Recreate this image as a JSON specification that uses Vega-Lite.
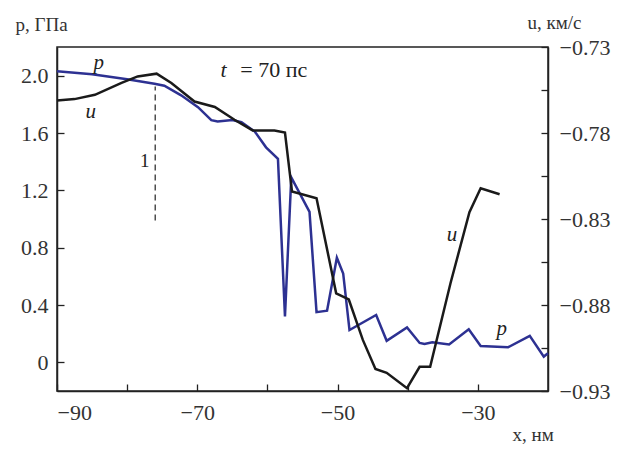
{
  "$schema": "https://vega.github.io/schema/vega-lite/v6.json",
  "width": 491,
  "height": 344,
  "autosize": {"type": "none"},
  "padding": {"left": 57, "top": 47, "right": 83, "bottom": 59},
  "background": "white",
  "config": {
    "font": "Liberation Serif",
    "view": {"stroke": "#222", "strokeWidth": 1.5},
    "axis": {
      "grid": false,
      "domainColor": "#222",
      "domainWidth": 1.5,
      "tickColor": "#222",
      "tickWidth": 1.3,
      "labelFont": "Liberation Serif",
      "labelFontSize": 22,
      "labelColor": "#333",
      "titleFont": "Liberation Serif",
      "titleFontSize": 19,
      "titleFontWeight": "normal",
      "titleColor": "#333",
      "titleAngle": 0,
      "titleAlign": "left",
      "titleBaseline": "alphabetic"
    }
  },
  "datasets": {
    "pdata": [
      {"x": -90, "p": 2.03},
      {"x": -85, "p": 2.01},
      {"x": -80, "p": 1.975},
      {"x": -76.1, "p": 1.944},
      {"x": -74.7, "p": 1.93},
      {"x": -72.3, "p": 1.863},
      {"x": -69.9, "p": 1.78},
      {"x": -68, "p": 1.69},
      {"x": -67.1, "p": 1.68},
      {"x": -65, "p": 1.69},
      {"x": -63.7, "p": 1.675},
      {"x": -61.8, "p": 1.61},
      {"x": -60.2, "p": 1.5},
      {"x": -58.5, "p": 1.42},
      {"x": -57.5, "p": 0.32},
      {"x": -56.6, "p": 1.29},
      {"x": -54, "p": 1.05},
      {"x": -53, "p": 0.35},
      {"x": -51.5, "p": 0.36},
      {"x": -50.1, "p": 0.73},
      {"x": -49.2, "p": 0.62},
      {"x": -48.3, "p": 0.225},
      {"x": -44.5, "p": 0.33},
      {"x": -43, "p": 0.15},
      {"x": -40.1, "p": 0.244},
      {"x": -38.3, "p": 0.135},
      {"x": -37.6, "p": 0.128},
      {"x": -36.5, "p": 0.14},
      {"x": -34.1, "p": 0.125},
      {"x": -31.3, "p": 0.23},
      {"x": -29.6, "p": 0.114},
      {"x": -25.7, "p": 0.105},
      {"x": -22.6, "p": 0.185},
      {"x": -20.6, "p": 0.04},
      {"x": -20, "p": 0.063}
    ],
    "udata": [
      {"x": -90, "u": -0.7611},
      {"x": -87.5, "u": -0.7603},
      {"x": -84.6, "u": -0.7578},
      {"x": -80.8, "u": -0.7509},
      {"x": -78.5, "u": -0.7471},
      {"x": -75.8, "u": -0.7455},
      {"x": -73.7, "u": -0.7509},
      {"x": -70.4, "u": -0.7617},
      {"x": -67.5, "u": -0.7649},
      {"x": -64.7, "u": -0.7723},
      {"x": -62.1, "u": -0.7785},
      {"x": -59.0, "u": -0.7785},
      {"x": -57.5, "u": -0.7797},
      {"x": -56.5, "u": -0.814},
      {"x": -53, "u": -0.8179},
      {"x": -50.2, "u": -0.8732},
      {"x": -48.4, "u": -0.8768},
      {"x": -46.4, "u": -0.9003},
      {"x": -44.6, "u": -0.9172},
      {"x": -43.0, "u": -0.9194},
      {"x": -40.1, "u": -0.9284},
      {"x": -38.3, "u": -0.9159},
      {"x": -36.8, "u": -0.9159},
      {"x": -33.9, "u": -0.8674},
      {"x": -31.2, "u": -0.826},
      {"x": -29.6, "u": -0.8121},
      {"x": -26.9, "u": -0.8156}
    ],
    "italicLabels": [
      {"x": -84.06, "p": 2.049, "text": "p"},
      {"x": -85.2, "p": 1.707, "text": "u"},
      {"x": -33.7, "p": 0.845, "text": "u"},
      {"x": -26.58, "p": 0.19, "text": "p"}
    ],
    "tLabel": [
      {"x": -66.68, "p": 1.99, "text": "t"}
    ],
    "oneLabel": [
      {"x": -77.5, "p": 1.363, "text": "1"}
    ],
    "timeLabel": [
      {"x": -63.87, "p": 1.99, "text": "= 70 пс"}
    ],
    "marker": [
      {"x": -76, "p": 0.99, "p2": 1.925}
    ]
  },
  "layer": [
    {
      "layer": [
        {
          "data": {"name": "pdata"},
          "mark": {"type": "line", "color": "#2d3192", "strokeWidth": 2.5},
          "encoding": {
            "x": {
              "field": "x", "type": "quantitative",
              "scale": {"domain": [-90, -20], "nice": false, "zero": false},
              "axis": {
                "orient": "bottom",
                "values": [-90, -80, -70, -60, -50, -40, -30],
                "labelExpr": "(datum.value + 90) % 20 == 0 ? replace(format(datum.value, 'd'), '-', '\u2212') : ''",
                "tickSize": -7,
                "labelPadding": 18,
                "title": "x, нм",
                "titleX": 455,
                "titleY": 49
              }
            },
            "y": {
              "field": "p", "type": "quantitative",
              "scale": {"domain": [-0.2, 2.2], "nice": false, "zero": false},
              "axis": {
                "orient": "left",
                "values": [0, 0.2, 0.4, 0.6, 0.8, 1.0, 1.2, 1.4, 1.6, 1.8, 2.0],
                "labelExpr": "datum.value == 0 ? '0' : (round(datum.value * 10) % 4 == 0 ? format(datum.value, '.1f') : '')",
                "tickSize": -7,
                "labelPadding": 16,
                "title": "p, ГПа",
                "titleX": -42,
                "titleY": -17
              }
            }
          }
        },
        {
          "data": {"name": "marker"},
          "mark": {"type": "rule", "color": "#222", "strokeWidth": 1.2, "strokeDash": [6, 4]},
          "encoding": {
            "x": {"field": "x", "type": "quantitative"},
            "y": {"field": "p", "type": "quantitative"},
            "y2": {"field": "p2"}
          }
        },
        {
          "data": {"name": "italicLabels"},
          "mark": {"type": "text", "fontStyle": "italic", "fontSize": 21, "color": "#222", "align": "center", "baseline": "alphabetic", "font": "Liberation Serif"},
          "encoding": {
            "x": {"field": "x", "type": "quantitative"},
            "y": {"field": "p", "type": "quantitative"},
            "text": {"field": "text"}
          }
        },
        {
          "data": {"name": "tLabel"},
          "mark": {"type": "text", "fontStyle": "italic", "fontSize": 22, "color": "#222", "align": "left", "baseline": "alphabetic", "font": "Liberation Serif"},
          "encoding": {
            "x": {"field": "x", "type": "quantitative"},
            "y": {"field": "p", "type": "quantitative"},
            "text": {"field": "text"}
          }
        },
        {
          "data": {"name": "timeLabel"},
          "mark": {"type": "text", "fontSize": 22, "color": "#222", "align": "left", "baseline": "alphabetic", "font": "Liberation Serif"},
          "encoding": {
            "x": {"field": "x", "type": "quantitative"},
            "y": {"field": "p", "type": "quantitative"},
            "text": {"field": "text"}
          }
        },
        {
          "data": {"name": "oneLabel"},
          "mark": {"type": "text", "fontSize": 19, "color": "#222", "align": "center", "baseline": "alphabetic", "font": "Liberation Serif"},
          "encoding": {
            "x": {"field": "x", "type": "quantitative"},
            "y": {"field": "p", "type": "quantitative"},
            "text": {"field": "text"}
          }
        }
      ]
    },
    {
      "data": {"name": "udata"},
      "mark": {"type": "line", "color": "#1a1a1a", "strokeWidth": 2.5},
      "encoding": {
        "x": {"field": "x", "type": "quantitative"},
        "y": {
          "field": "u", "type": "quantitative",
          "scale": {"domain": [-0.93, -0.73], "nice": false, "zero": false},
          "axis": {
            "orient": "right",
            "values": [-0.93, -0.905, -0.88, -0.855, -0.83, -0.805, -0.78, -0.755, -0.73],
            "labelExpr": "round((datum.value + 0.93) * 1000) % 50 == 0 ? replace(format(datum.value, '.2f'), '-', '\u2212') : ''",
            "tickSize": -7,
            "labelPadding": 18,
            "title": "u, км/с",
            "titleX": -21,
            "titleY": -19
          }
        }
      }
    }
  ],
  "resolve": {"scale": {"y": "independent"}, "axis": {"y": "independent"}}
}
